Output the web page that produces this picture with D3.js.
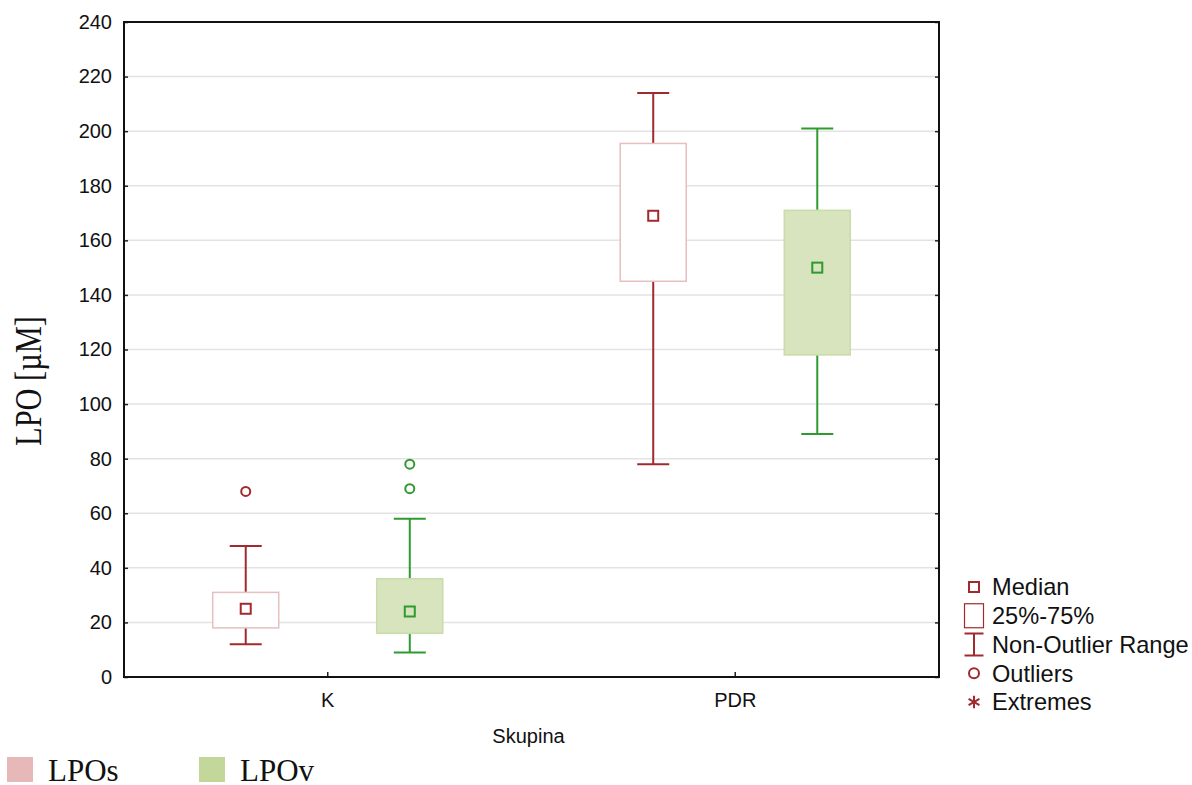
<!DOCTYPE html>
<html>
<head>
    <title>LPO box plot</title>
    <script src="https://cdnjs.cloudflare.com/ajax/libs/d3/7.8.5/d3.min.js"></script>
    <style>
        body { margin: 0; background: #fff; }
        text { font-family: "Liberation Sans", Arial, sans-serif; }
    </style>
</head>
<body>
    <div id="vis"></div>

    <script>
        // data
        var categories = ["K", "PDR"];
        var series = ["LPOs", "LPOv"];
        var yTicks = [0, 20, 40, 60, 80, 100, 120, 140, 160, 180, 200, 220, 240];

        // per series, one value per category
        var whiskLow = { LPOs: [12, 78], LPOv: [9, 89] };
        var q1 = { LPOs: [18, 145], LPOv: [16, 118] };
        var median = { LPOs: [25, 169], LPOv: [24, 150] };
        var q3 = { LPOs: [31, 195.5], LPOv: [36, 171] };
        var whiskHigh = { LPOs: [48, 214], LPOv: [58, 201] };
        var outliers = { LPOs: [[68], []], LPOv: [[78, 69], []] };

        var legendItems = ["Median", "25%-75%", "Non-Outlier Range", "Outliers", "Extremes"];

        var lineCol = { LPOs: "#a02a2d", LPOv: "#2f9a2f" };
        var boxFill = { LPOs: "#ffffff", LPOv: "#d7e4bd" };
        var boxStroke = { LPOs: "#e6bfc0", LPOv: "#c9dcaa" };
        var swatchCol = { LPOs: "#e6b8b7", LPOv: "#c4d79b" };

        var W = 1192, H = 785;
        // plot frame (note: "top" is taken by window.top)
        var pL = 124, pR = 939, pT = 22, pB = 677;

        var svg = d3.select("#vis").append("svg")
            .attr("width", W)
            .attr("height", H);

        var x = d3.scaleBand().domain(categories).range([pL, pR]);
        var xs = d3.scalePoint().domain(series).range([0, x.bandwidth()]).padding(0.742);
        var y = d3.scaleLinear().domain([0, 240]).range([pB, pT]);

        // grid
        svg.append("g").selectAll("line")
            .data(yTicks.filter(function(d) { return d > 0 && d < 240; }))
            .enter().append("line")
            .attr("x1", pL).attr("x2", pR)
            .attr("y1", function(d) { return y(d); })
            .attr("y2", function(d) { return y(d); })
            .style("stroke", "#e3e3e3").style("stroke-width", 1.5);

        // axes
        var yAxis = svg.append("g")
            .attr("transform", "translate(" + pL + ",0)")
            .call(d3.axisLeft(y).tickValues(yTicks).tickSizeInner(-4).tickSizeOuter(0).tickPadding(12));
        yAxis.select(".domain").remove();
        yAxis.selectAll("text").style("font-size", "20px").attr("fill", "#111");
        yAxis.selectAll("line").style("stroke", "#222").style("stroke-width", 1.5);

        var yAxisR = svg.append("g")
            .attr("transform", "translate(" + pR + ",0)")
            .call(d3.axisRight(y).tickValues(yTicks).tickSizeInner(-4).tickSizeOuter(0).tickFormat(""));
        yAxisR.select(".domain").remove();
        yAxisR.selectAll("line").style("stroke", "#222").style("stroke-width", 1.5);

        var xAxis = svg.append("g")
            .attr("transform", "translate(0," + pB + ")")
            .call(d3.axisBottom(x).tickSizeInner(-5).tickSizeOuter(0).tickPadding(16));
        xAxis.select(".domain").remove();
        xAxis.selectAll("text").style("font-size", "20px").attr("fill", "#111");
        xAxis.selectAll("line").style("stroke", "#222").style("stroke-width", 1.5);

        // frame
        svg.append("rect")
            .attr("x", pL).attr("y", pT)
            .attr("width", pR - pL).attr("height", pB - pT)
            .style("fill", "none").style("stroke", "#111").style("stroke-width", 2);

        // boxes
        var boxW = 66, capW = 32;
        series.forEach(function(s) {
            var g = svg.append("g");
            categories.forEach(function(c, i) {
                var cx = x(c) + xs(s);
                var col = lineCol[s];
                // whiskers
                g.append("line")
                    .attr("x1", cx).attr("x2", cx)
                    .attr("y1", y(whiskHigh[s][i])).attr("y2", y(q3[s][i]))
                    .style("stroke", col).style("stroke-width", 2);
                g.append("line")
                    .attr("x1", cx).attr("x2", cx)
                    .attr("y1", y(q1[s][i])).attr("y2", y(whiskLow[s][i]))
                    .style("stroke", col).style("stroke-width", 2);
                [whiskHigh[s][i], whiskLow[s][i]].forEach(function(v) {
                    g.append("line")
                        .attr("x1", cx - capW / 2).attr("x2", cx + capW / 2)
                        .attr("y1", y(v)).attr("y2", y(v))
                        .style("stroke", col).style("stroke-width", 2);
                });
                // box
                g.append("rect")
                    .attr("x", cx - boxW / 2).attr("y", y(q3[s][i]))
                    .attr("width", boxW).attr("height", y(q1[s][i]) - y(q3[s][i]))
                    .style("fill", boxFill[s]).style("stroke", boxStroke[s]).style("stroke-width", 1.5);
                // median
                g.append("rect")
                    .attr("x", cx - 5).attr("y", y(median[s][i]) - 5)
                    .attr("width", 10).attr("height", 10)
                    .style("fill", boxFill[s]).style("stroke", col).style("stroke-width", 2);
                // outliers
                outliers[s][i].forEach(function(v) {
                    g.append("circle")
                        .attr("cx", cx).attr("cy", y(v)).attr("r", 4.5)
                        .style("fill", "none").style("stroke", col).style("stroke-width", 2);
                });
            });
        });

        // axis titles (the y title is drawn tall and narrow, as in the original)
        svg.append("text")
            .attr("transform", "translate(41,381) rotate(-90) scale(0.8,1)")
            .attr("text-anchor", "middle")
            .style("font-family", "'Liberation Serif', 'Times New Roman', serif")
            .style("font-size", "38px")
            .attr("fill", "#111")
            .text("LPO [\u00b5M]");

        svg.append("text")
            .attr("x", (pL + pR) / 2 - 3).attr("y", 743)
            .attr("text-anchor", "middle")
            .style("font-size", "20px")
            .attr("fill", "#111")
            .text("Skupina");

        // symbol legend
        var lg = svg.append("g").attr("transform", "translate(974,0)");
        var dark = lineCol.LPOs;
        var rowY = d3.scalePoint().domain(legendItems).range([587, 702]);
        legendItems.forEach(function(t) {
            var cy = rowY(t);
            if (t === "Median") {
                lg.append("rect").attr("x", -5).attr("y", cy - 5).attr("width", 10).attr("height", 10)
                    .style("fill", "none").style("stroke", dark).style("stroke-width", 2);
            } else if (t === "25%-75%") {
                lg.append("rect").attr("x", -9.5).attr("y", cy - 12).attr("width", 19).attr("height", 24)
                    .style("fill", "none").style("stroke", dark).style("stroke-width", 1.2);
            } else if (t === "Non-Outlier Range") {
                lg.append("line").attr("x1", 0).attr("x2", 0).attr("y1", cy - 11).attr("y2", cy + 11)
                    .style("stroke", dark).style("stroke-width", 2);
                [cy - 11, cy + 11].forEach(function(yy) {
                    lg.append("line").attr("x1", -9.5).attr("x2", 9.5).attr("y1", yy).attr("y2", yy)
                        .style("stroke", dark).style("stroke-width", 2);
                });
            } else if (t === "Outliers") {
                lg.append("circle").attr("cx", 0).attr("cy", cy).attr("r", 5)
                    .style("fill", "none").style("stroke", dark).style("stroke-width", 2);
            } else {
                lg.append("path")
                    .attr("transform", "translate(0," + cy + ")")
                    .attr("d", d3.symbol().type(d3.symbolAsterisk).size(110))
                    .style("fill", "none").style("stroke", dark).style("stroke-width", 2);
            }
            lg.append("text")
                .attr("x", 18).attr("y", cy)
                .attr("dy", "0.36em")
                .style("font-size", "23.6px")
                .attr("fill", "#111")
                .text(t);
        });

        // series legend
        var sx = d3.scalePoint().domain(series).range([7, 199]);
        series.forEach(function(s) {
            svg.append("rect")
                .attr("x", sx(s)).attr("y", 757)
                .attr("width", 26).attr("height", 25)
                .style("fill", swatchCol[s]);
            svg.append("text")
                .attr("x", sx(s) + 41).attr("y", 781)
                .style("font-family", "'Liberation Serif', 'Times New Roman', serif")
                .style("font-size", "31px")
                .attr("fill", "#111")
                .text(s);
        });
    </script>
</body>
</html>
